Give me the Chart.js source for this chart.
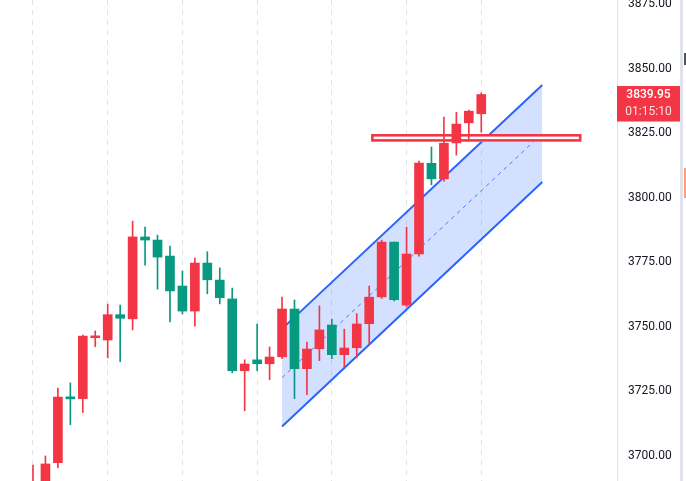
<!DOCTYPE html>
<html>
<head>
<meta charset="utf-8">
<script src="https://cdn.jsdelivr.net/npm/chart.js@4.4.1/dist/chart.umd.min.js"></script>
<style>
  html, body { margin: 0; padding: 0; background: #fff; }
  canvas { display: block; }
</style>
</head>
<body>
<canvas id="grafico" width="686" height="481"></canvas>
<script>
// Dados das velas (índice = número da barra)
const abertura = [3675, 3686, 3697.4, 3722.9, 3722.2, 3745.8, 3744.9, 3754.7, 3753.1, 3784.8,
  3783.6, 3777.4, 3765.8, 3756.1, 3774.7, 3768.1, 3760.8, 3733.0, 3737.2, 3735.7,
  3738.4, 3756.9, 3733.8, 3741.5, 3750.7, 3739.2, 3741.9, 3751.2, 3761.6, 3782.8,
  3758.4, 3778.2, 3813.3, 3807.3, 3821.2, 3829.0, 3832.5];
const maxima = [3696.5, 3700, 3726.3, 3728.3, 3746.8, 3748.4, 3758.8, 3758.4, 3790.9, 3788.6,
  3785.5, 3781.3, 3771.6, 3776.6, 3779.1, 3772.8, 3765.0, 3737.2, 3751.1, 3742.2,
  3761.5, 3760.4, 3744.1, 3758.1, 3753.0, 3749.1, 3755.1, 3765.8, 3783.6, 3782.8,
  3788.6, 3814.2, 3819.6, 3831.2, 3833.1, 3833.9, 3840.6];
const minima = [3670, 3683, 3695.5, 3712.1, 3716.8, 3742.3, 3738.0, 3736.5, 3748.8, 3773.9,
  3764.6, 3751.9, 3755.0, 3750.3, 3762.8, 3758.9, 3732.2, 3717.5, 3733.0, 3729.5,
  3737.7, 3722.2, 3723.7, 3736.9, 3737.7, 3734.2, 3738.0, 3743.0, 3761.0, 3760.0,
  3757.7, 3777.4, 3805.0, 3806.4, 3816.5, 3822.3, 3825.4];
const fechamento = [3689, 3696.9, 3722.8, 3722.1, 3746.4, 3746.5, 3754.7, 3753.3, 3784.8, 3783.6,
  3777.0, 3763.9, 3756.1, 3774.7, 3768.2, 3761.3, 3733.0, 3735.6, 3735.7, 3738.3,
  3756.9, 3733.8, 3741.4, 3748.8, 3739.2, 3741.8, 3751.1, 3761.5, 3782.8, 3760.5,
  3778.2, 3813.4, 3807.3, 3821.1, 3828.5, 3833.5, 3839.95];

// Eixo de preços
const precoTicks = [3700, 3725, 3750, 3775, 3800, 3825, 3850, 3875];
const precoMin = 3690.3;
const precoMax = 3876.55;

// Eixo das barras e grade vertical
const barraMin = -2.65;
const barraMax = 46.9;
const gradeBarras = [0, 6, 12, 18, 24, 30, 36];

// Canal paralelo (início e fim)
const canalX = [20, 40.9];
const canalTopo = [3749.2, 3843.6];
const canalBase = [3711.4, 3806.1];
const canalMeio = canalTopo.map((v, i) => (v + canalBase[i]) / 2);

// Retângulo de resistência
const retX = [27.15, 44.05];
const retPreco = [3824.66, 3821.68];

// Contagem regressiva da vela atual
const contagem = '01:15:10';

const corAlta = '#f23645';
const corBaixa = '#089981';
const azul = '#2962ff';

Chart.defaults.font.family = 'Roboto, sans-serif';

const cores = fechamento.map((c, i) => c >= abertura[i] ? corAlta : corBaixa);
const pavios = maxima.map((h, i) => ({ x: i, y: [minima[i], h] }));
const corpos = abertura.map((o, i) => ({ x: i, y: [o, fechamento[i]] }));
const linha = arr => arr.map((v, i) => ({ x: canalX[i], y: v }));

// Desenhos extras: retângulo, etiqueta do preço, borda direita
const extrasPlugin = {
    id: 'extras',
    afterDatasetDraw(chart, args) {
        if (args.index !== 4) return; // depois da linha do meio, antes das velas
        const ctx = chart.ctx;
        const { x, y } = chart.scales;
        const x1 = x.getPixelForValue(retX[0]);
        const x2 = x.getPixelForValue(retX[1]);
        const y1 = y.getPixelForValue(retPreco[0]);
        const y2 = y.getPixelForValue(retPreco[1]);
        ctx.save();
        ctx.fillStyle = '#ffffff';
        ctx.fillRect(x1, y1, x2 - x1, y2 - y1);
        ctx.strokeStyle = corAlta;
        ctx.lineWidth = 2.6;
        ctx.strokeRect(x1 + 1.3, y1 + 1.3, x2 - x1 - 2.6, y2 - y1 - 2.6);
        ctx.restore();
    },
    afterDraw(chart) {
        const ctx = chart.ctx;
        const y = chart.scales.y;
        const ultimo = fechamento[fechamento.length - 1];
        const py = y.getPixelForValue(ultimo);
        const esq = chart.chartArea.right;
        const dir = y.right;
        ctx.save();
        ctx.fillStyle = corAlta;
        ctx.fillRect(esq, py - 8.5, dir - esq, 35.5);
        ctx.textAlign = 'center';
        ctx.textBaseline = 'middle';
        ctx.font = '500 12px Roboto, sans-serif';
        ctx.fillStyle = '#ffffff';
        ctx.fillText(ultimo.toFixed(2), (esq + dir) / 2, py + 0.5);
        ctx.fillStyle = 'rgba(255,255,255,0.85)';
        ctx.font = '12px Roboto, sans-serif';
        ctx.fillText(contagem, (esq + dir) / 2, py + 17.5);

        // borda do painel à direita
        ctx.fillStyle = '#e0e3eb';
        ctx.fillRect(dir, 0, 3, chart.height);
        ctx.fillStyle = '#50535e';
        ctx.fillRect(dir + 4, 53, 2, 12);
        ctx.fillStyle = '#ff9d76';
        ctx.fillRect(dir + 4, 168, 2, 30);
        ctx.restore();
    }
};

const ctx = document.getElementById('grafico').getContext('2d');

new Chart(ctx, {
    type: 'bar',
    data: {
        datasets: [
            {
                type: 'bar',
                data: pavios,
                backgroundColor: cores,
                barThickness: 1,
                grouped: false,
                order: 0
            },
            {
                type: 'bar',
                data: corpos,
                backgroundColor: cores,
                barThickness: 9,
                grouped: false,
                order: 0
            },
            {
                type: 'line',
                data: linha(canalTopo),
                borderColor: azul,
                borderWidth: 2,
                pointRadius: 0,
                fill: '+1',
                backgroundColor: 'rgba(41,98,255,0.2)',
                order: 2
            },
            {
                type: 'line',
                data: linha(canalBase),
                borderColor: azul,
                borderWidth: 2,
                pointRadius: 0,
                fill: false,
                order: 2
            },
            {
                type: 'line',
                data: linha(canalMeio),
                borderColor: 'rgba(41,98,255,0.8)',
                borderWidth: 1,
                borderDash: [4, 4],
                pointRadius: 0,
                fill: false,
                order: 1
            }
        ]
    },
    options: {
        responsive: false,
        animation: false,
        devicePixelRatio: 1,
        layout: { padding: { left: 0, top: 0, bottom: 0, right: 6 } },
        plugins: {
            legend: { display: false },
            tooltip: { enabled: false },
            filler: { drawTime: 'beforeDatasetsDraw' }
        },
        scales: {
            x: {
                type: 'linear',
                offset: false,
                min: barraMin,
                max: barraMax,
                ticks: { display: false },
                grid: { color: '#e0e3eb', lineWidth: 1, drawTicks: false, offset: false },
                border: { display: false, dash: [5, 5] },
                afterBuildTicks: s => { s.ticks = gradeBarras.map(v => ({ value: v })); },
                afterFit: s => { s.height = 0; s.paddingLeft = 0; s.paddingRight = 0; }
            },
            y: {
                position: 'right',
                min: precoMin,
                max: precoMax,
                grid: { display: false, drawTicks: false },
                border: { display: true, color: '#e0e3eb', width: 1 },
                ticks: {
                    color: '#131722',
                    font: { size: 12 },
                    padding: 11,
                    callback: v => v.toFixed(2)
                },
                afterBuildTicks: s => { s.ticks = precoTicks.map(v => ({ value: v })); },
                afterFit: s => { s.width = 63; s.paddingTop = 0; s.paddingBottom = 0; }
            }
        }
    },
    plugins: [extrasPlugin]
});
</script>
</body>
</html>
